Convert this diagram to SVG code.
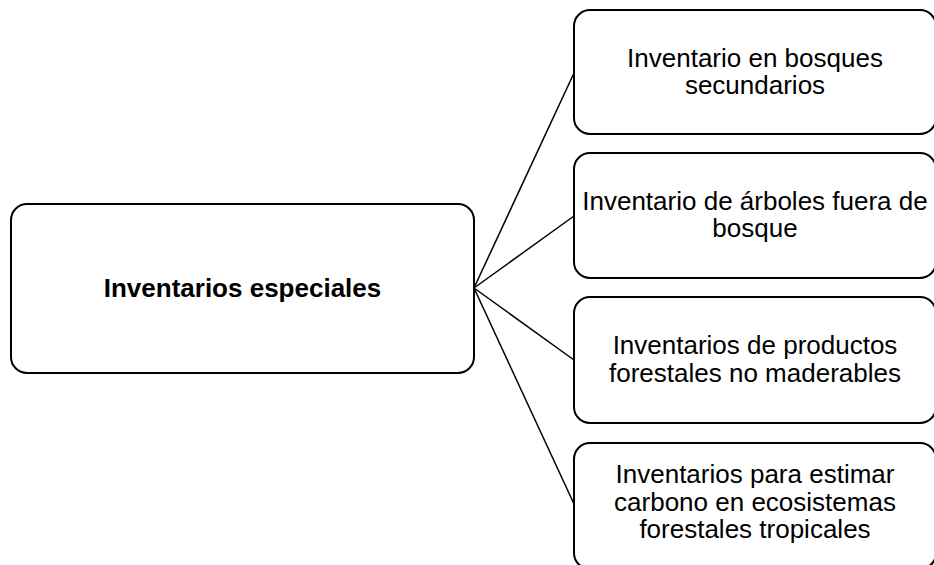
<svg xmlns="http://www.w3.org/2000/svg" width="934" height="565" viewBox="0 0 934 565">
<style>
.box{fill:#fff;stroke:#000;stroke-width:2}
.t{font-family:"Liberation Sans",Arial,sans-serif;font-size:26px;fill:#000;text-anchor:middle}
.b{font-weight:bold}
.c{stroke:#000;stroke-width:1.5;fill:none}
</style>
<rect width="934" height="565" fill="#fff"/>
<g id="connectors">
<line class="c" x1="474" y1="288" x2="574" y2="73"/>
<line class="c" x1="474" y1="288" x2="574" y2="216"/>
<line class="c" x1="474" y1="288" x2="574" y2="360"/>
<line class="c" x1="474" y1="288" x2="574" y2="504"/>
</g>
<g id="main">
<rect class="box" x="11" y="204" width="463" height="169" rx="16"/>
<text class="t b" x="242.5" y="297">Inventarios especiales</text>
</g>
<g id="n1">
<rect class="box" x="574" y="10" width="362" height="124" rx="16"/>
<text class="t" x="755" y="67">Inventario en bosques</text>
<text class="t" x="755" y="94">secundarios</text>
</g>
<g id="n2">
<rect class="box" x="574" y="153" width="362" height="125" rx="16"/>
<text class="t" x="755" y="210">Inventario de árboles fuera de</text>
<text class="t" x="755" y="237">bosque</text>
</g>
<g id="n3">
<rect class="box" x="574" y="297" width="362" height="126" rx="16"/>
<text class="t" x="755" y="354">Inventarios de productos</text>
<text class="t" x="755" y="382">forestales no maderables</text>
</g>
<g id="n4">
<rect class="box" x="574" y="443" width="362" height="126" rx="16"/>
<text class="t" x="755" y="483">Inventarios para estimar</text>
<text class="t" x="755" y="511">carbono en ecosistemas</text>
<text class="t" x="755" y="538">forestales tropicales</text>
</g>
</svg>
